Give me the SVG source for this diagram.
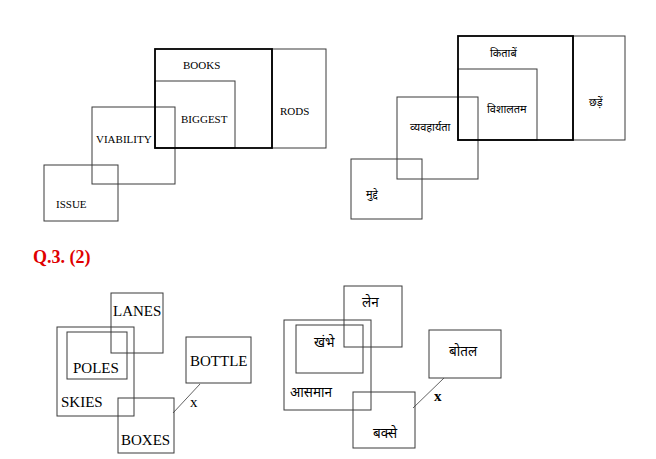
<svg xmlns="http://www.w3.org/2000/svg" width="656" height="459" viewBox="0 0 656 459">
<style>
.box{fill:none;stroke:#3a3a3a;stroke-width:1}
.thick{fill:none;stroke:#000;stroke-width:1.8}
.en{font-family:"Liberation Serif","Times New Roman",serif;font-size:11px;fill:#000}
.en2{font-family:"Liberation Serif","Times New Roman",serif;font-size:15px;fill:#000}
.hi{font-family:"Noto Sans","Liberation Sans",sans-serif;font-size:11px;fill:#000}
.hi2{font-family:"Noto Sans","Liberation Sans",sans-serif;font-size:13.5px;fill:#000}
.title{font-family:"Liberation Serif","Times New Roman",serif;font-size:18px;font-weight:bold;fill:#e00000}
.con{stroke:#3a3a3a;stroke-width:0.8;fill:none}
</style>
<rect width="656" height="459" fill="#fff"/>
<!-- Diagram 1 English -->
<g id="rods"><rect class="box" x="272" y="49" width="54" height="99"/><text class="en" x="280" y="115">RODS</text></g>
<g id="issue"><rect class="box" x="44" y="165" width="74" height="56"/><text class="en" x="56" y="208">ISSUE</text></g>
<g id="viability"><rect class="box" x="92" y="107" width="83" height="77"/><text class="en" x="96" y="142.5">VIABILITY</text></g>
<g id="biggest"><rect class="box" x="155" y="81" width="80" height="67"/><text class="en" x="181" y="122.5">BIGGEST</text></g>
<g id="books"><rect class="thick" x="155" y="49" width="117" height="99"/><text class="en" x="183" y="69">BOOKS</text></g>
<!-- Diagram 1 Hindi -->
<g id="chhade"><rect class="box" x="573" y="36" width="52" height="104"/><text class="hi" x="589" y="106">छड़ें</text></g>
<g id="mudde"><rect class="box" x="351" y="159" width="71" height="60"/><text class="hi" x="366" y="198">मुद्दे</text></g>
<g id="vyavaharyata"><rect class="box" x="397" y="97" width="81" height="82"/><text class="hi" x="410" y="131">व्यवहार्यता</text></g>
<g id="vishaltam"><rect class="box" x="458" y="69" width="79" height="71"/><text class="hi" x="487" y="113">विशालतम</text></g>
<g id="kitaben"><rect class="thick" x="458" y="36" width="115" height="104"/><text class="hi" x="490" y="56.5">किताबें</text></g>
<!-- Title -->
<text class="title" x="33" y="263">Q.3. (2)</text>
<!-- Diagram 2 English -->
<g id="lanes"><rect class="box" x="111" y="293" width="52" height="60"/><text class="en2" x="113" y="316">LANES</text></g>
<g id="skies"><rect class="box" x="57" y="327" width="77" height="89"/><text class="en2" x="61" y="407">SKIES</text></g>
<g id="poles"><rect class="box" x="67" y="332" width="60" height="47"/><text class="en2" x="73" y="373">POLES</text></g>
<g id="bottle"><rect class="box" x="186" y="337" width="65" height="46"/><text class="en2" x="190" y="366">BOTTLE</text></g>
<g id="boxes"><rect class="box" x="118" y="398" width="56" height="55"/><text class="en2" x="121" y="445">BOXES</text></g>
<!-- Diagram 2 Hindi -->
<g id="lane"><rect class="box" x="344" y="286" width="58" height="61"/><text class="hi2" x="362" y="307">लेन</text></g>
<g id="aasmaan"><rect class="box" x="284" y="320" width="87" height="90"/><text class="hi2" x="290" y="397">आसमान</text></g>
<g id="khambhe"><rect class="box" x="296" y="325" width="67" height="48"/><text class="hi2" x="314" y="347">खंभे</text></g>
<g id="botal"><rect class="box" x="429" y="330" width="72" height="48"/><text class="hi2" x="449" y="356">बोतल</text></g>
<g id="bakse"><rect class="box" x="353" y="392" width="62" height="56"/><text class="hi2" x="373" y="438">बक्से</text></g>
<!-- Connectors -->
<g id="connectors">
<line class="con" x1="200" y1="384" x2="173" y2="413"/>
<text class="en2" x="190" y="407">x</text>
<line class="con" x1="444" y1="378" x2="413" y2="408"/>
<text class="en2" x="434" y="401" font-weight="bold">x</text>
</g>
</svg>
